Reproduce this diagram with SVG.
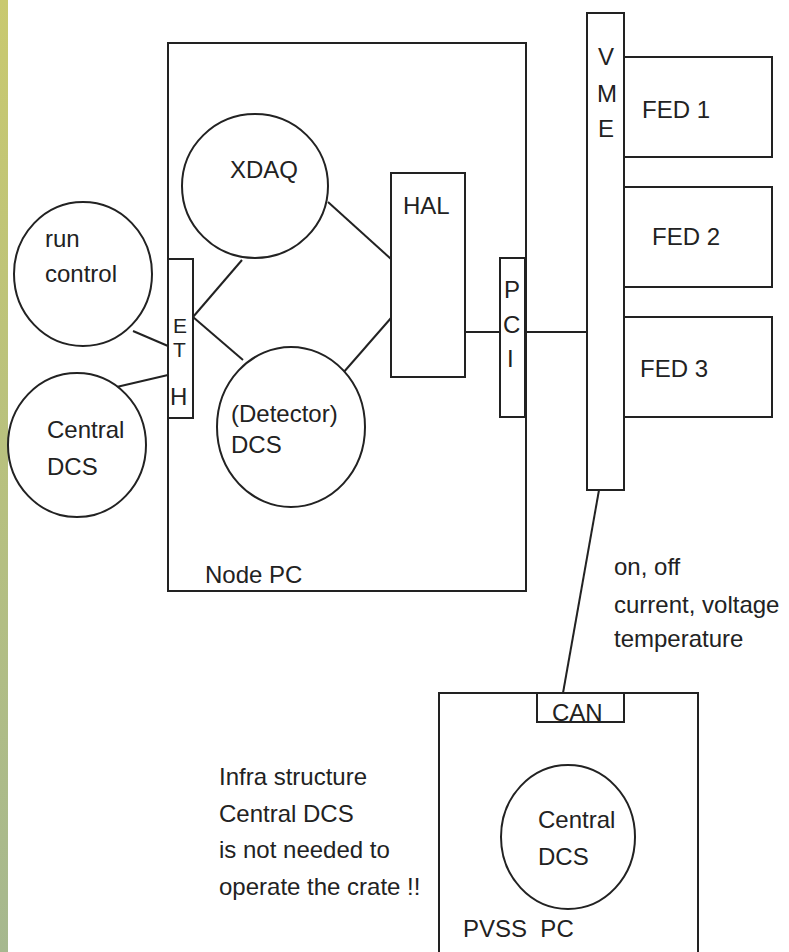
<svg xmlns="http://www.w3.org/2000/svg" width="789" height="952" viewBox="0 0 789 952">
<style>
.s{fill:#fff;stroke:#222;stroke-width:2}
.c{stroke:#222;stroke-width:2;fill:none}
text{font-family:"Liberation Sans",Arial,sans-serif;font-size:24px;fill:#222}
text.sm{font-size:21px}
text.pre{white-space:pre}
</style>
<defs>
<linearGradient id="strip" x1="0" y1="0" x2="0" y2="1">
<stop offset="0" stop-color="#c9c96f"/>
<stop offset="1" stop-color="#a6b88f"/>
</linearGradient>
</defs>
<rect x="0" y="0" width="789" height="952" fill="#fff"/>
<rect x="0" y="0" width="8" height="952" fill="url(#strip)"/>
<g id="nodepc">
<rect class="s" x="168" y="43" width="358" height="548"/>
<text x="205" y="583">Node PC</text>
</g>
<g id="connectors">
<line class="c" x1="328" y1="202" x2="391" y2="259"/>
<line class="c" x1="193" y1="317" x2="242" y2="260"/>
<line class="c" x1="193" y1="317" x2="243" y2="360"/>
<line class="c" x1="391" y1="318" x2="343" y2="373"/>
<line class="c" x1="133" y1="331" x2="168" y2="346"/>
<line class="c" x1="108" y1="389" x2="168" y2="375"/>
<line class="c" x1="465" y1="332" x2="500" y2="332"/>
<line class="c" x1="525" y1="332" x2="587" y2="332"/>
<line class="c" x1="599" y1="490" x2="563" y2="693"/>
</g>
<g id="xdaq">
<ellipse class="s" cx="255" cy="186" rx="73" ry="72"/>
<text x="230" y="178">XDAQ</text>
</g>
<g id="hal">
<rect class="s" x="391" y="173" width="74" height="204"/>
<text x="403" y="214">HAL</text>
</g>
<g id="detdcs">
<ellipse class="s" cx="291" cy="427" rx="74" ry="80"/>
<text x="231" y="422">(Detector)</text>
<text x="231" y="453">DCS</text>
</g>
<g id="eth">
<rect class="s" x="168" y="259" width="25" height="159"/>
<text class="sm" x="173" y="333">E</text>
<text class="sm" x="173" y="357">T</text>
<text x="170" y="405">H</text>
</g>
<g id="pci">
<rect class="s" x="500" y="258" width="25" height="159"/>
<text x="504" y="298">P</text>
<text x="503" y="333">C</text>
<text x="507" y="367">I</text>
</g>
<g id="runcontrol">
<ellipse class="s" cx="83" cy="274" rx="69" ry="72"/>
<text x="45" y="247">run</text>
<text x="45" y="282">control</text>
</g>
<g id="centraldcs1">
<ellipse class="s" cx="77" cy="445" rx="69" ry="72"/>
<text x="47" y="438">Central</text>
<text x="47" y="475">DCS</text>
</g>
<g id="vme">
<rect class="s" x="587" y="13" width="37" height="477"/>
<text x="598" y="65">V</text>
<text x="597" y="102">M</text>
<text x="598" y="137">E</text>
</g>
<g id="fed1">
<rect class="s" x="624" y="57" width="148" height="100"/>
<text x="642" y="118">FED 1</text>
</g>
<g id="fed2">
<rect class="s" x="624" y="187" width="148" height="100"/>
<text x="652" y="245">FED 2</text>
</g>
<g id="fed3">
<rect class="s" x="624" y="317" width="148" height="100"/>
<text x="640" y="377">FED 3</text>
</g>
<g id="label-can">
<text x="614" y="575">on, off</text>
<text x="614" y="613">current, voltage</text>
<text x="614" y="647">temperature</text>
</g>
<g id="pvsspc">
<rect class="s" x="439" y="693" width="259" height="265"/>
<text class="pre" x="463" y="937">PVSS  PC</text>
</g>
<g id="can">
<rect class="s" x="537" y="693" width="87" height="29"/>
<text x="552" y="721">CAN</text>
</g>
<g id="centraldcs2">
<ellipse class="s" cx="568" cy="837" rx="67" ry="72"/>
<text x="538" y="828">Central</text>
<text x="538" y="865">DCS</text>
</g>
<g id="note">
<text x="219" y="785">Infra structure</text>
<text x="219" y="822">Central DCS</text>
<text x="219" y="858">is not needed to</text>
<text x="219" y="895">operate the crate !!</text>
</g>
</svg>
